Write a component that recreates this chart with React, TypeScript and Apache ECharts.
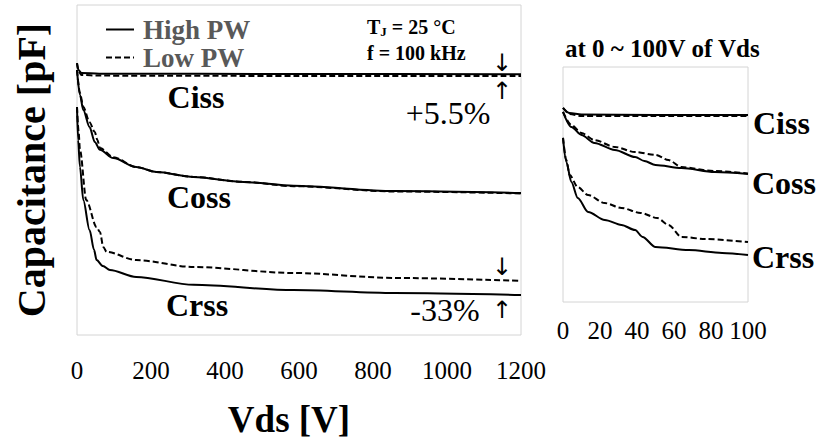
import React, { useEffect, useRef } from "react";
import * as echarts from "echarts";

// Main plot (0 ~ 1200 V), relative capacitance (arbitrary units, y axis unlabeled)
const mainTicks = [0, 200, 400, 600, 800, 1000, 1200];
const mainCissHigh = [[0, 82.4], [4, 80.3], [12, 79.4], [60, 79.2], [600, 79.1], [1200, 79.0]];
const mainCissLow = [[0, 82.4], [4, 80.0], [12, 78.8], [60, 78.6], [600, 78.5], [1200, 78.5]];
const mainCossHigh = [[0, 80.3], [8, 72.7], [17, 68.2], [34, 63.0], [48, 58.5], [62, 56.1], [98, 53.6], [160, 50.9], [215, 49.4], [315, 47.9], [450, 46.4], [585, 45.2], [857, 43.6], [1200, 43.0]];
const mainCossLow = [[0, 80.3], [8, 73.3], [17, 69.1], [34, 64.5], [48, 61.5], [55, 59.1], [62, 56.7], [98, 53.9], [160, 50.9], [215, 49.4], [315, 47.9], [450, 46.4], [585, 45.1], [857, 43.5], [1200, 42.9]];
const mainCrssHigh = [[0, 69.1], [3, 59.1], [8, 50.9], [17, 40.9], [34, 31.8], [46, 25.8], [53, 22.7], [70, 20.9], [89, 19.7], [160, 17.6], [315, 15.2], [585, 13.6], [857, 12.7], [1200, 12.1]];
const mainCrssLow = [[0, 69.1], [4, 62.1], [8, 56.1], [25, 40.9], [53, 32.7], [62, 31.2], [71, 26.7], [80, 25.2], [160, 22.7], [315, 20.6], [585, 18.8], [857, 17.3], [1200, 16.4]];

// Inset (0 ~ 100 V)
const insetTicks = [0, 20, 40, 60, 80, 100];
const insetCissHigh = [[0, 82.6], [3.6, 80.4], [10, 79.8], [50, 79.6], [100, 79.6]];
const insetCissLow = [[0, 82.6], [3.6, 80.0], [10, 79.1], [50, 79.1], [100, 79.1]];
const insetCossHigh = [[0, 80.9], [4.5, 74.5], [10, 71.1], [17, 67.7], [28, 64.7], [39, 61.7], [44, 60.0], [50, 58.3], [64, 57.0], [82, 55.3], [100, 54.5]];
const insetCossLow = [[0, 80.9], [4.5, 75.3], [10, 71.9], [17, 68.9], [28, 66.0], [39, 63.8], [50, 62.6], [57, 60.4], [64, 57.4], [82, 55.7], [100, 54.7]];
const insetCrssHigh = [[0, 69.8], [1.8, 59.6], [4.5, 51.1], [8, 44.3], [13.6, 38.3], [22.6, 34.9], [31.6, 32.8], [39, 30.6], [43, 27.7], [50, 23.4], [68, 22.1], [86, 20.9], [100, 20.0]];
const insetCrssLow = [[0, 69.8], [1.8, 60.4], [3.6, 54.0], [8, 48.9], [13.6, 45.5], [22.6, 42.1], [31.6, 40.0], [42, 37.9], [51, 35.7], [57, 32.8], [64, 27.7], [77, 26.8], [100, 25.5]];

const legendNames = ["High PW", "Low PW"];
const curveNames = ["Ciss", "Coss", "Crss"];

const SERIF = "Liberation Serif";
const ARROW = "DejaVu Sans";

export default function App() {
  const ref = useRef<HTMLDivElement>(null);
  useEffect(() => {
    document.body.style.margin = "0";
    const chart = echarts.init(ref.current!, null, { renderer: "svg" });

    const mk = (name: string, data: number[][], dashed: boolean, idx: number) => ({
      type: "line",
      name,
      data,
      xAxisIndex: idx,
      yAxisIndex: idx,
      symbol: "none",
      smooth: 0.3,
      smoothMonotone: "x",
      lineStyle: { color: "#000", width: 2, type: dashed ? [6, 3] : "solid" },
      itemStyle: { color: "#000" },
      silent: true,
    });

    const bold = (text: string, x: number, y: number, size: number, align = "center") => ({
      type: "text",
      x,
      y,
      style: {
        text,
        fontFamily: SERIF,
        fontWeight: "bold",
        fontSize: size,
        fill: "#000",
        align,
        verticalAlign: "middle",
      },
    });
    const plain = (text: string, x: number, y: number, size: number, family = SERIF) => ({
      type: "text",
      x,
      y,
      style: { text, fontFamily: family, fontSize: size, fill: "#000", align: "center", verticalAlign: "middle" },
    });

    const option: any = {
      animation: false,
      grid: [
        { left: 77, top: 5, width: 444, height: 330, show: true, borderColor: "#d4d4d4", borderWidth: 1, backgroundColor: "transparent" },
        { left: 563, top: 67, width: 185, height: 235, show: true, borderColor: "#d4d4d4", borderWidth: 1, backgroundColor: "transparent" },
      ],
      legend: {
        data: legendNames,
        orient: "vertical",
        left: 100,
        top: 11,
        itemWidth: 28,
        itemHeight: 12,
        itemGap: 1,
        selectedMode: false,
        itemStyle: { opacity: 0 },
        lineStyle: { width: 2 },
        textStyle: { fontFamily: SERIF, fontWeight: "bold", fontSize: 27, color: "#595959", padding: [0, 0, 0, 4], lineHeight: 27 },
      },
      xAxis: [
        {
          type: "value",
          gridIndex: 0,
          min: 0,
          max: 1200,
          interval: 200,
          name: "Vds [V]",
          nameLocation: "middle",
          nameGap: 66,
          nameTextStyle: { fontFamily: SERIF, fontWeight: "bold", fontSize: 37, color: "#000", padding: [0, 20, 0, 0] },
          axisLine: { show: false },
          axisTick: { show: false },
          splitLine: { show: false },
          axisLabel: { fontFamily: SERIF, fontSize: 25, color: "#000", margin: 23, formatter: (v: number) => (mainTicks.includes(v) ? String(v) : "") },
        },
        {
          type: "value",
          gridIndex: 1,
          min: 0,
          max: 100,
          interval: 20,
          axisLine: { show: false },
          axisTick: { show: false },
          splitLine: { show: false },
          axisLabel: { fontFamily: SERIF, fontSize: 25, color: "#000", margin: 16, formatter: (v: number) => (insetTicks.includes(v) ? String(v) : "") },
        },
      ],
      yAxis: [
        {
          type: "value",
          gridIndex: 0,
          min: 0,
          max: 100,
          name: "Capacitance [pF]",
          nameLocation: "middle",
          nameRotate: 90,
          nameGap: 26,
          nameTextStyle: { fontFamily: SERIF, fontWeight: "bold", fontSize: 40, color: "#000" },
          axisLine: { show: false },
          axisTick: { show: false },
          axisLabel: { show: false },
          splitLine: { show: false },
        },
        {
          type: "value",
          gridIndex: 1,
          min: 0,
          max: 100,
          axisLine: { show: false },
          axisTick: { show: false },
          axisLabel: { show: false },
          splitLine: { show: false },
        },
      ],
      series: [
        mk(legendNames[0], mainCissHigh, false, 0),
        mk(legendNames[1], mainCissLow, true, 0),
        mk(legendNames[0], mainCossHigh, false, 0),
        mk(legendNames[1], mainCossLow, true, 0),
        mk(legendNames[0], mainCrssHigh, false, 0),
        mk(legendNames[1], mainCrssLow, true, 0),
        mk(legendNames[0], insetCissHigh, false, 1),
        mk(legendNames[1], insetCissLow, true, 1),
        mk(legendNames[0], insetCossHigh, false, 1),
        mk(legendNames[1], insetCossLow, true, 1),
        mk(legendNames[0], insetCrssHigh, false, 1),
        mk(legendNames[1], insetCrssLow, true, 1),
      ],
      graphic: [
        bold(curveNames[0], 196, 97, 32),
        bold(curveNames[1], 199, 197, 32),
        bold(curveNames[2], 197, 305, 32),
        plain("+5.5%", 448, 113, 32),
        plain("-33%", 445, 310, 32),
        plain("↓", 502, 63, 24, ARROW),
        plain("↑", 502, 91, 24, ARROW),
        plain("↓", 502, 267, 24, ARROW),
        plain("↑", 502, 310, 24, ARROW),
        {
          type: "text",
          x: 367,
          y: 27,
          style: {
            text: "{b|T}{s|J}{b| = 25 °C}",
            fontFamily: SERIF,
            fontWeight: "bold",
            fontSize: 20,
            fill: "#000",
            align: "left",
            verticalAlign: "middle",
            rich: {
              b: { fontFamily: SERIF, fontWeight: "bold", fontSize: 20, fill: "#000", verticalAlign: "middle" },
              s: { fontFamily: SERIF, fontWeight: "bold", fontSize: 13, fill: "#000", verticalAlign: "bottom", padding: [8, 0, 0, 0] },
            },
          },
        },
        bold("f = 100 kHz", 367, 53, 20, "left"),
        bold("at 0 ~ 100V of Vds", 565, 48, 25, "left"),
        bold(curveNames[0], 753, 123, 32, "left"),
        bold(curveNames[1], 752, 183, 32, "left"),
        bold(curveNames[2], 752, 257, 32, "left"),
      ],
    };
    chart.setOption(option);
    return () => chart.dispose();
  }, []);
  return <div ref={ref} style={{ width: 824, height: 443 }} />;
}
